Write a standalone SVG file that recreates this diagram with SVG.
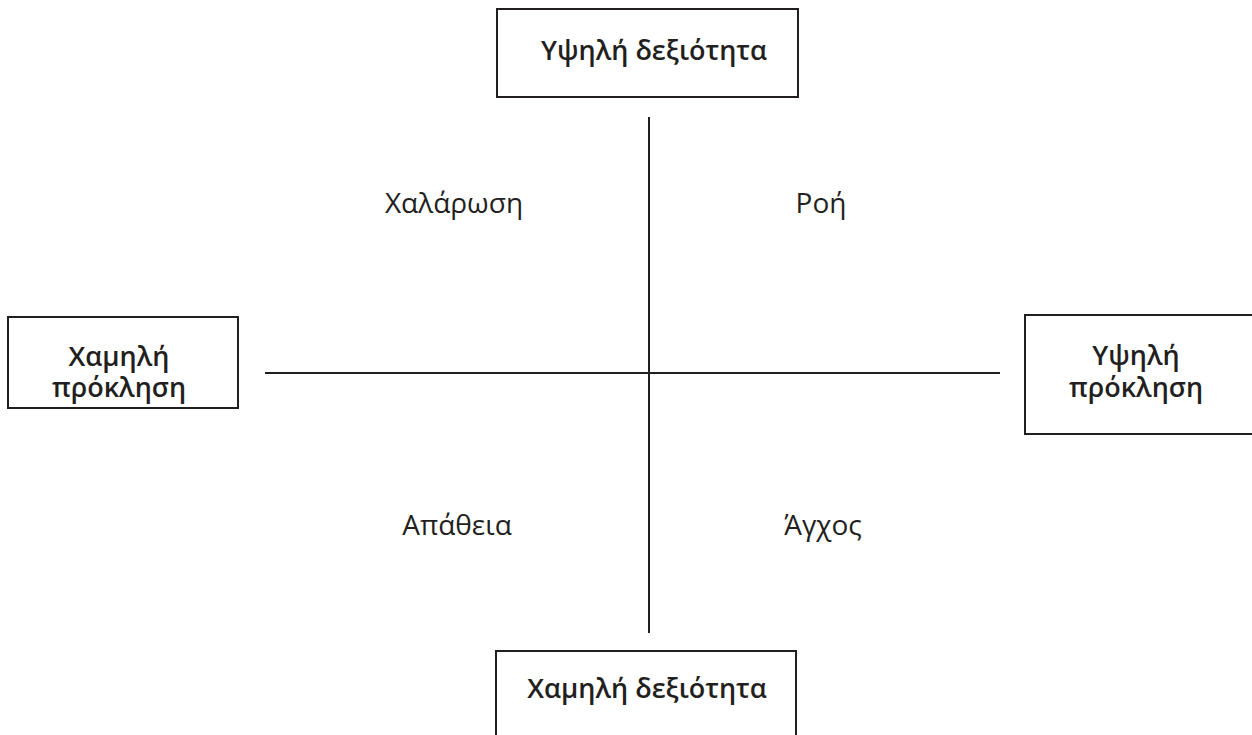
<svg xmlns="http://www.w3.org/2000/svg" width="1252" height="735" viewBox="0 0 1252 735">
<style>
.box{fill:#fff;stroke:#231f20;stroke-width:2}
.bl{font-family:"Open Sans","Noto Sans",sans-serif;font-size:27px;font-weight:600;fill:#231f20;text-anchor:middle}
.ql{font-family:"Open Sans","Noto Sans",sans-serif;font-size:28px;font-weight:400;fill:#231f20;text-anchor:middle}
.ax{stroke:#231f20;stroke-width:2;fill:none}
</style>
<rect width="1252" height="735" fill="#fff"/>
<g id="connectors">
<line class="ax" x1="649" y1="117" x2="649" y2="633"/>
<line class="ax" x1="265" y1="373" x2="1000" y2="373"/>
</g>
<g id="high-skill">
<rect class="box" x="497" y="9" width="301" height="88"/>
<text class="bl" x="654" y="60">Υψηλή δεξιότητα</text>
</g>
<g id="low-challenge">
<rect class="box" x="8" y="317" width="230" height="91"/>
<text class="bl" x="119" y="366">Χαμηλή</text>
<text class="bl" x="119" y="397">πρόκληση</text>
</g>
<g id="high-challenge">
<rect class="box" x="1025" y="315" width="240" height="119"/>
<text class="bl" x="1136" y="365">Υψηλή</text>
<text class="bl" x="1136" y="397">πρόκληση</text>
</g>
<g id="low-skill">
<rect class="box" x="496" y="651" width="300" height="100"/>
<text class="bl" x="647" y="698">Χαμηλή δεξιότητα</text>
</g>
<g id="relaxation"><text class="ql" x="454" y="213">Χαλάρωση</text></g>
<g id="flow"><text class="ql" x="821" y="213">Ροή</text></g>
<g id="apathy"><text class="ql" x="457" y="535">Απάθεια</text></g>
<g id="anxiety"><text class="ql" x="823" y="535">Άγχος</text></g>
</svg>
